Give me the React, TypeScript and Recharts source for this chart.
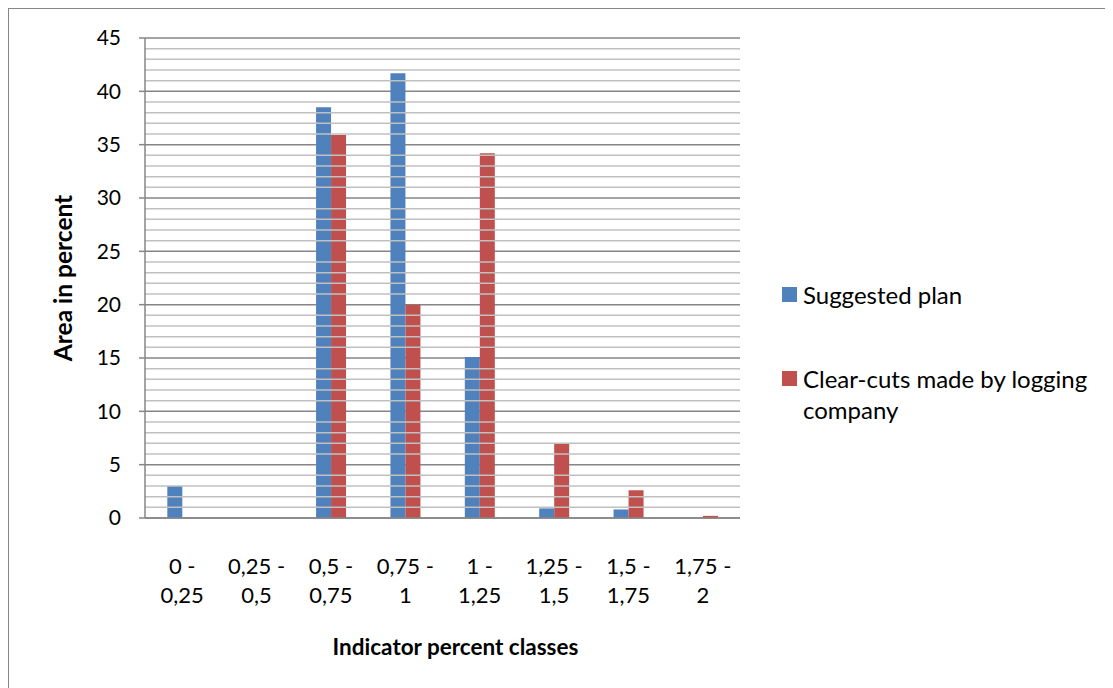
import React from "react";
import {
  Bar,
  BarChart,
  CartesianGrid,
  Label,
  ReferenceLine,
  XAxis,
  YAxis,
} from "recharts";

// indicator classes on the x axis
const categories = [
  "0 - 0,25",
  "0,25 - 0,5",
  "0,5 - 0,75",
  "0,75 - 1",
  "1 - 1,25",
  "1,25 - 1,5",
  "1,5 - 1,75",
  "1,75 - 2",
];

// area share in percent per class
const suggestedPlan = [3, 0, 38.5, 41.7, 15.1, 0.9, 0.8, 0];
const clearCuts = [0, 0, 35.9, 20, 34.2, 7, 2.6, 0.2];

const yTicks = [0, 5, 10, 15, 20, 25, 30, 35, 40, 45];

const series = [
  { key: "suggested", name: "Suggested plan", color: "#4f81bd" },
  { key: "clearcuts", name: "Clear-cuts made by logging company", color: "#c0504d" },
];

const data = categories.map((c, i) => ({
  name: c,
  suggested: suggestedPlan[i],
  clearcuts: clearCuts[i],
}));

// light lines at every whole percent between the major ticks
const minorLines: number[] = [];
for (let v = 1; v < 45; v++) if (v % 5 !== 0) minorLines.push(v);

const FONT = "Lato, 'Open Sans', sans-serif";

function CategoryTick(props: any) {
  const { x, y, payload } = props;
  const [from, to] = String(payload.value).split(" - ");
  return (
    <g>
      <text x={x} y={y + 45} textAnchor="middle" dominantBaseline="central" fill="#000" fontSize={22} fontFamily={FONT}>
        {from} -
      </text>
      <text x={x} y={y + 74} textAnchor="middle" dominantBaseline="central" fill="#000" fontSize={22} fontFamily={FONT}>
        {to}
      </text>
    </g>
  );
}

export default function App() {
  return (
    <div
      style={{
        position: "relative",
        width: 1104,
        height: 679,
        borderLeft: "1px solid #868686",
        borderTop: "1px solid #868686",
        fontFamily: FONT,
        background: "#fff",
      }}
    >
      <BarChart
        width={1104}
        height={679}
        data={data}
        margin={{ top: 29, right: 373, bottom: 30, left: 36 }}
        barCategoryGap="30%"
        barGap={0}
      >
        {minorLines.map((v) => (
          <ReferenceLine key={v} y={v} stroke="#c0c0c0" strokeWidth={1.5} />
        ))}
        <CartesianGrid vertical={false} stroke="#868686" strokeWidth={1.5} />
        <XAxis
          dataKey="name"
          height={140}
          tick={<CategoryTick />}
          tickLine={false}
          tickSize={0}
          axisLine={{ stroke: "#868686", strokeWidth: 1.5 }}
          interval={0}
        >
          <Label
            content={(p: any) => {
              const vb = p.viewBox;
              return (
                <text
                  x={vb.x + vb.width / 2 + 13}
                  y={vb.y + 128}
                  textAnchor="middle"
                  dominantBaseline="central"
                  fontSize={22.5}
                  fontWeight="bold"
                  fontFamily={FONT}
                  fill="#000"
                >
                  Indicator percent classes
                </text>
              );
            }}
          />
        </XAxis>
        <YAxis
          width={100}
          domain={[0, 45]}
          ticks={yTicks}
          interval={0}
          tick={{ fill: "#000", fontSize: 21, fontFamily: FONT }}
          tickSize={6}
          tickMargin={18}
          tickLine={{ stroke: "#868686", strokeWidth: 1.5 }}
          axisLine={{ stroke: "#868686", strokeWidth: 1.5 }}
        >
          <Label
            content={(p: any) => {
              const vb = p.viewBox;
              const cx = vb.x + 17;
              const cy = vb.y + vb.height / 2;
              return (
                <text
                  x={cx}
                  y={cy}
                  transform={`rotate(-90 ${cx} ${cy})`}
                  textAnchor="middle"
                  dominantBaseline="central"
                  fontSize={24.5}
                  fontWeight="bold"
                  fontFamily={FONT}
                  fill="#000"
                >
                  Area in percent
                </text>
              );
            }}
          />
        </YAxis>
        {series.map((s) => (
          <Bar key={s.key} dataKey={s.key} name={s.name} fill={s.color} isAnimationActive={false} />
        ))}
      </BarChart>
      <div style={{ position: "absolute", left: 773, top: 270, width: 330 }}>
        {series.map((s, i) => (
          <div
            key={s.key}
            style={{
              display: "flex",
              alignItems: "flex-start",
              marginTop: i === 0 ? 0 : 53,
              fontSize: 24,
              lineHeight: "31px",
              color: "#000",
            }}
          >
            <span
              style={{
                display: "inline-block",
                width: 15,
                height: 15,
                background: s.color,
                marginTop: 8,
                marginRight: 6,
                flex: "none",
              }}
            />
            <span style={{ width: 300 }}>{s.name}</span>
          </div>
        ))}
      </div>
    </div>
  );
}
